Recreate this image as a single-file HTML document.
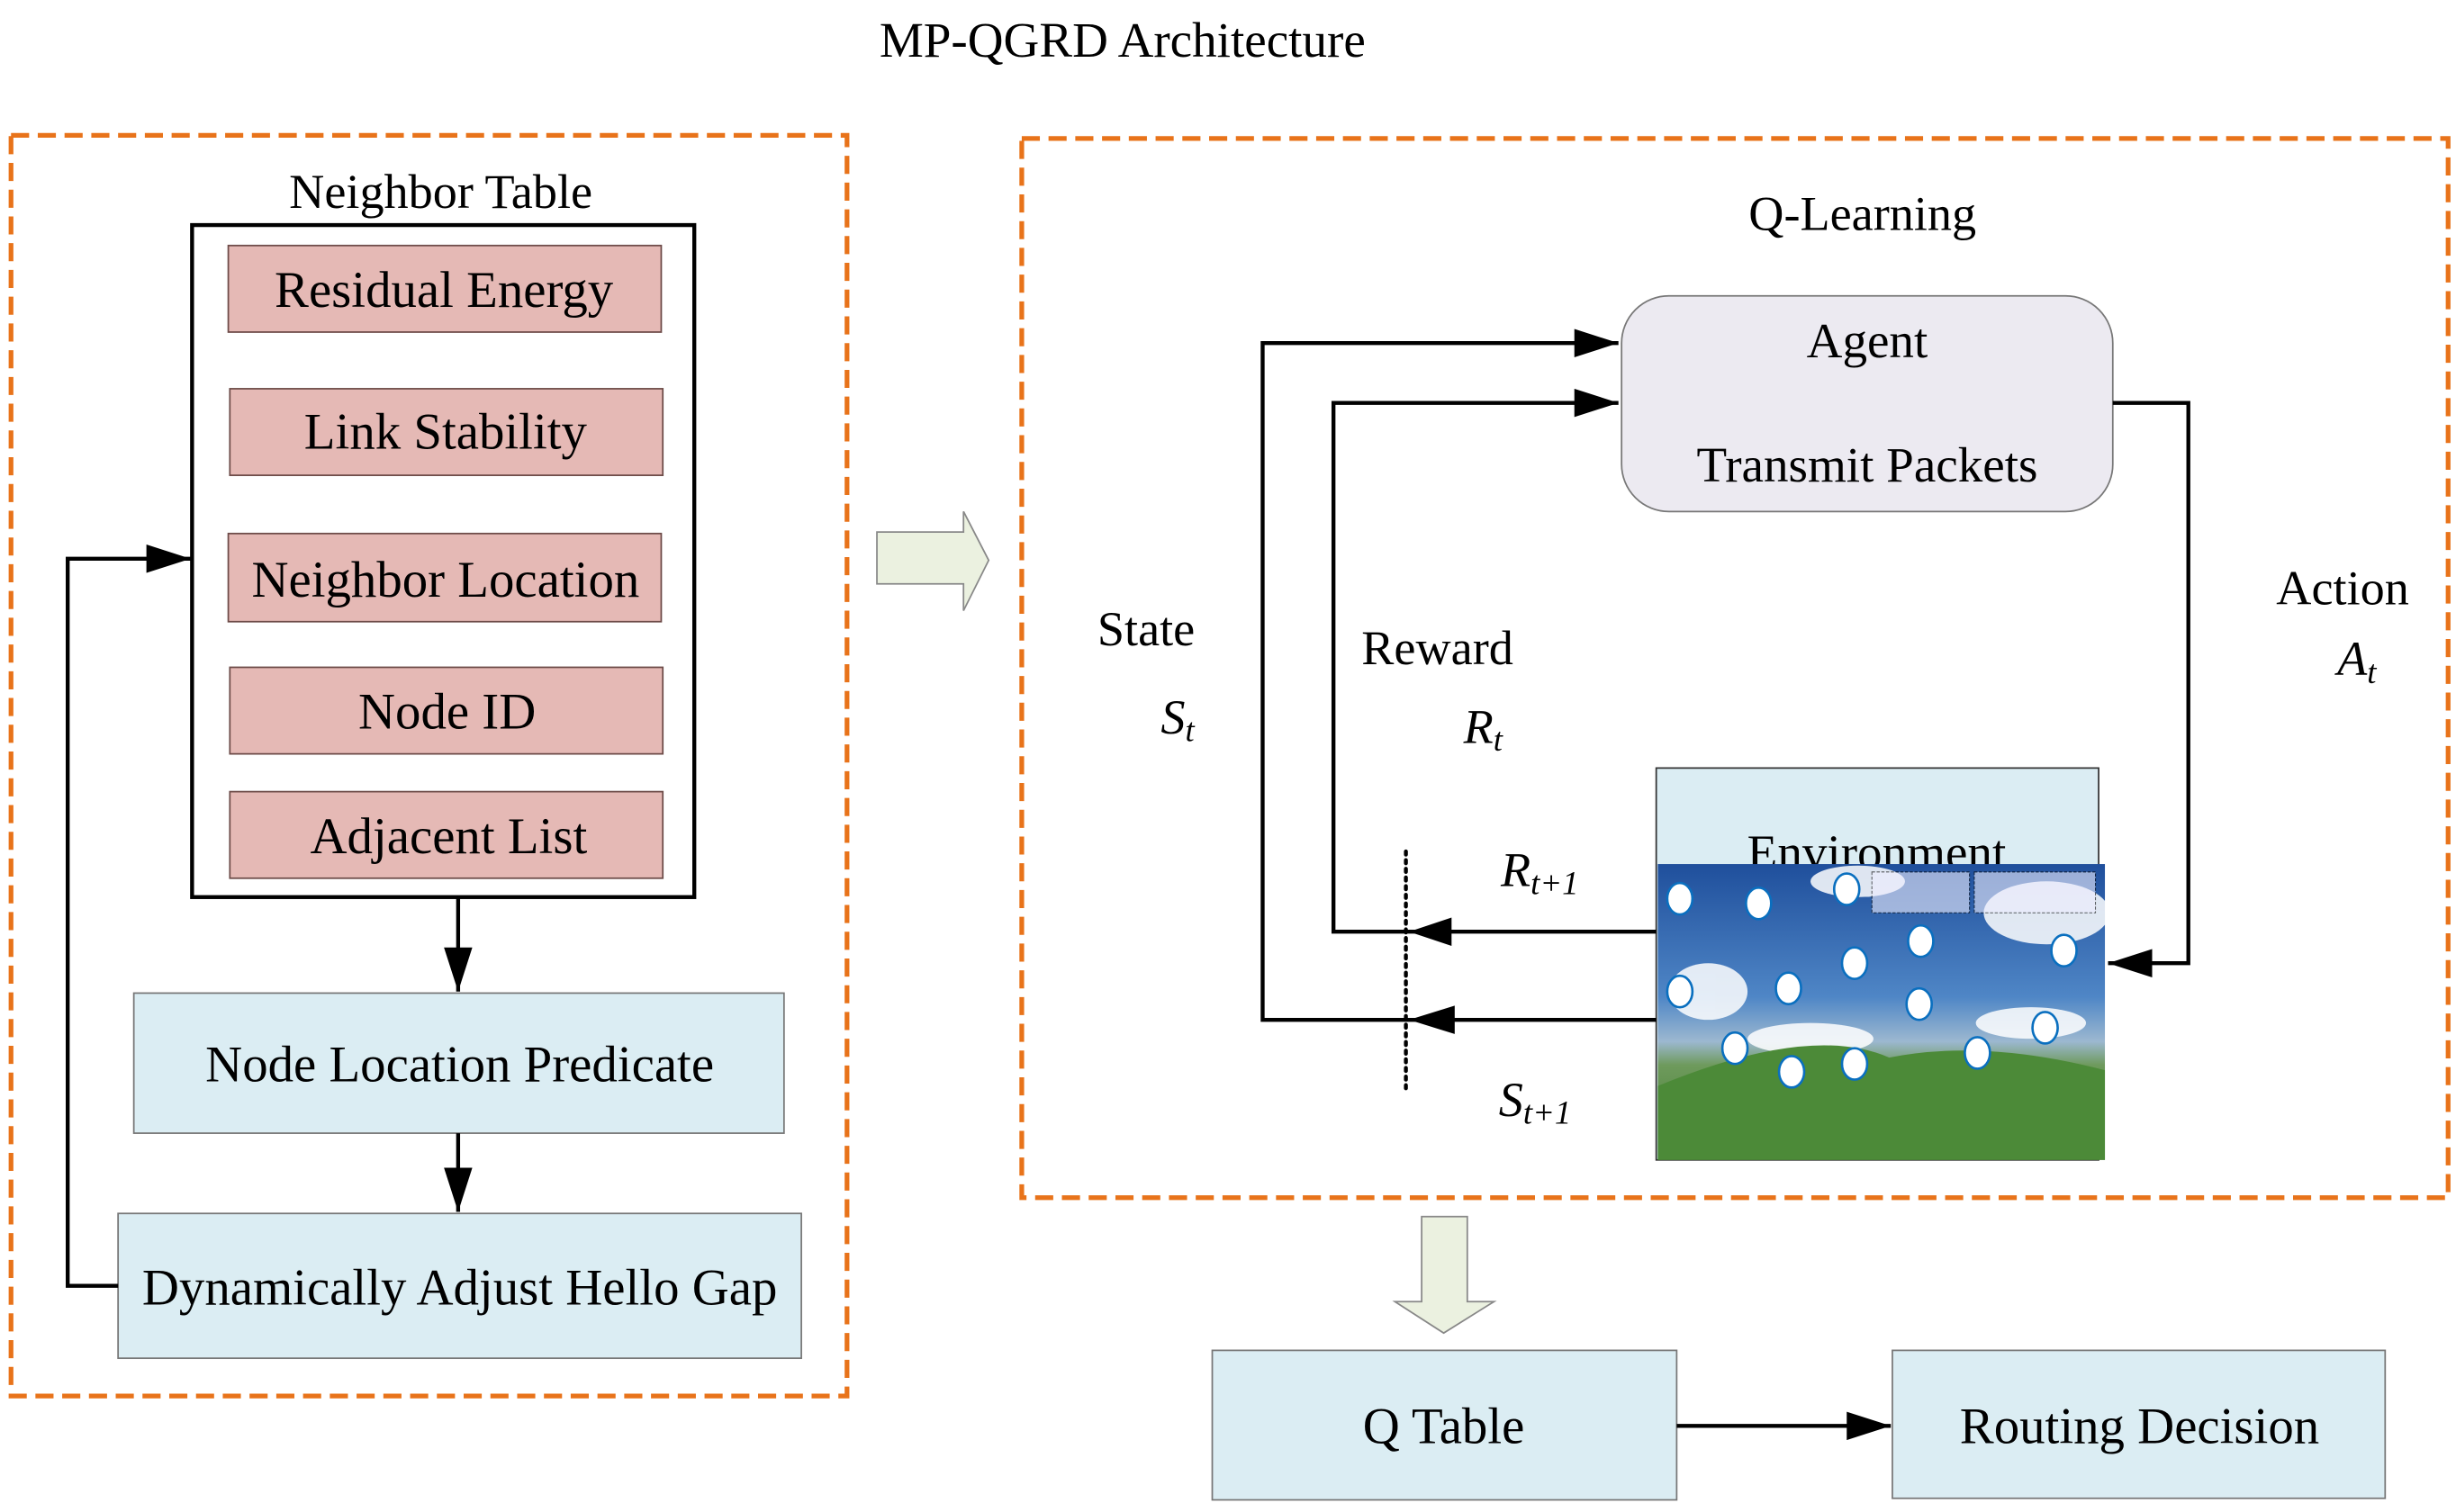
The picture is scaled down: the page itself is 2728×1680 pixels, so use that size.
<!DOCTYPE html>
<html><head><meta charset="utf-8"><style>
html,body{margin:0;padding:0;background:#fff;}
svg{display:block;}
text{font-family:"Liberation Serif",serif;fill:#000;}
</style></head><body>
<svg width="2728" height="1680" viewBox="0 0 1560 960.7" xmlns="http://www.w3.org/2000/svg">
<defs>
<marker id="ahb" markerWidth="28" markerHeight="18" refX="28" refY="9" orient="auto" markerUnits="userSpaceOnUse" viewBox="0 0 28 18">
<path d="M0,0 L28,9 L0,18 z" fill="#000"/></marker>
<linearGradient id="sky" x1="0" y1="0" x2="0" y2="1">
<stop offset="0" stop-color="#1f4f9c"/><stop offset="0.45" stop-color="#4f86c6"/><stop offset="0.6" stop-color="#9cb8d0"/><stop offset="0.68" stop-color="#6e9a5c"/><stop offset="1" stop-color="#3e7a2c"/></linearGradient>
</defs>
<rect width="1560" height="961" fill="#fff"/>
<text x="713" y="36" font-size="31.5" text-anchor="middle">MP-QGRD Architecture</text>

<rect x="7" y="86" width="531" height="801" fill="none" stroke="#E8731A" stroke-width="3" stroke-dasharray="11.5,5.5"/>
<text x="280" y="132" font-size="31" text-anchor="middle">Neighbor Table</text>
<rect x="122" y="143" width="319" height="427" fill="#fff" stroke="#000" stroke-width="2.5"/>
<g fill="#E5B9B5" stroke="#6d4b48" stroke-width="1">
<rect x="145" y="156" width="275" height="55"/>
<rect x="146" y="247" width="275" height="55"/>
<rect x="145" y="339" width="275" height="56"/>
<rect x="146" y="424" width="275" height="55"/>
<rect x="146" y="503" width="275" height="55"/>
</g>
<g font-size="32.5" text-anchor="middle">
<text x="282" y="195">Residual Energy</text>
<text x="283" y="285">Link Stability</text>
<text x="283" y="379">Neighbor Location</text>
<text x="284" y="463">Node ID</text>
<text x="285" y="542">Adjacent List</text>
</g>
<line x1="291" y1="570" x2="291" y2="630" stroke="#000" stroke-width="2.5" marker-end="url(#ahb)"/>
<rect x="85" y="631" width="413" height="89" fill="#DBEDF3" stroke="#777" stroke-width="1"/>
<text x="292" y="687" font-size="32.5" text-anchor="middle">Node Location Predicate</text>
<line x1="291" y1="720" x2="291" y2="770" stroke="#000" stroke-width="2.5" marker-end="url(#ahb)"/>
<rect x="75" y="771" width="434" height="92" fill="#DBEDF3" stroke="#777" stroke-width="1"/>
<text x="292" y="829" font-size="32.5" text-anchor="middle">Dynamically Adjust Hello Gap</text>
<polyline points="75,817 43,817 43,355 121,355" fill="none" stroke="#000" stroke-width="2.5" marker-end="url(#ahb)"/>

<path d="M557,338 L612,338 L612,325 L628,356 L612,388 L612,371 L557,371 z" fill="#EBF1E0" stroke="#888" stroke-width="1"/>

<rect x="649" y="88" width="906" height="673" fill="none" stroke="#E8731A" stroke-width="3" stroke-dasharray="11.5,5.5"/>
<text x="1183" y="146" font-size="31" text-anchor="middle">Q-Learning</text>
<rect x="1030" y="188" width="312" height="137" rx="30" fill="#ECEAF1" stroke="#777" stroke-width="1"/>
<text x="1186" y="227" font-size="31.5" text-anchor="middle">Agent</text>
<text x="1186" y="306" font-size="31.5" text-anchor="middle">Transmit Packets</text>

<rect x="1052" y="488" width="281" height="249" fill="#DBEDF3" stroke="#333" stroke-width="1"/>
<text x="1192" y="552" font-size="31.5" text-anchor="middle">Environment</text>
<rect x="1053" y="549" width="284" height="188" fill="url(#sky)"/>
<g fill="#fff" opacity="0.85">
<ellipse cx="1085" cy="630" rx="25" ry="18"/>
<ellipse cx="1300" cy="580" rx="40" ry="20"/>
<ellipse cx="1180" cy="560" rx="30" ry="10"/>
<ellipse cx="1290" cy="650" rx="35" ry="10"/>
<ellipse cx="1150" cy="660" rx="40" ry="10"/>
</g>
<path d="M1053,690 Q1150,650 1200,672 Q1260,660 1337,680 L1337,737 L1053,737 z" fill="#4c8a38"/>
<g stroke="#0a6fbf" stroke-width="1.5" fill="#fff">
<ellipse cx="1067" cy="571" rx="8" ry="10"/><ellipse cx="1117" cy="574" rx="8" ry="10"/><ellipse cx="1173" cy="565" rx="8" ry="10"/>
<ellipse cx="1067" cy="630" rx="8" ry="10"/><ellipse cx="1136" cy="628" rx="8" ry="10"/><ellipse cx="1178" cy="612" rx="8" ry="10"/>
<ellipse cx="1220" cy="598" rx="8" ry="10"/><ellipse cx="1219" cy="638" rx="8" ry="10"/><ellipse cx="1102" cy="666" rx="8" ry="10"/>
<ellipse cx="1138" cy="681" rx="8" ry="10"/><ellipse cx="1178" cy="676" rx="8" ry="10"/><ellipse cx="1256" cy="669" rx="8" ry="10"/>
<ellipse cx="1299" cy="653" rx="8" ry="10"/><ellipse cx="1311" cy="604" rx="8" ry="10"/>
</g>
<rect x="1189" y="554" width="62" height="26" fill="#eef" opacity="0.6" stroke="#000" stroke-dasharray="2,1" stroke-width="0.6"/>
<rect x="1254" y="554" width="77" height="26" fill="#eef" opacity="0.6" stroke="#000" stroke-dasharray="2,1" stroke-width="0.6"/>

<polyline points="1052,648 802,648 802,218 1028,218" fill="none" stroke="#000" stroke-width="2.5" marker-end="url(#ahb)"/>
<polyline points="1052,592 847,592 847,256 1028,256" fill="none" stroke="#000" stroke-width="2.5" marker-end="url(#ahb)"/>
<path d="M895,592 L922,583 L922,601 z" fill="#000"/>
<path d="M895,648 L924,639 L924,657 z" fill="#000"/>
<line x1="893" y1="541" x2="893" y2="692" stroke="#000" stroke-width="2.5" stroke-dasharray="2,3.5" stroke-linecap="round"/>
<polyline points="1342,256 1390,256 1390,612 1339,612" fill="none" stroke="#000" stroke-width="2.5" marker-end="url(#ahb)"/>

<text x="728" y="410" font-size="31" text-anchor="middle">State</text>
<text x="748" y="466" font-size="31" font-style="italic" text-anchor="middle">S<tspan font-size="21" dy="5">t</tspan></text>
<text x="913" y="422" font-size="31" text-anchor="middle">Reward</text>
<text x="942" y="472" font-size="31" font-style="italic" text-anchor="middle">R<tspan font-size="21" dy="5">t</tspan></text>
<text x="1488" y="384" font-size="31" text-anchor="middle">Action</text>
<text x="1497" y="429" font-size="31" font-style="italic" text-anchor="middle">A<tspan font-size="21" dy="5">t</tspan></text>
<text x="978" y="563" font-size="31" font-style="italic" text-anchor="middle">R<tspan font-size="21" dy="5">t+1</tspan></text>
<text x="975" y="709" font-size="31" font-style="italic" text-anchor="middle">S<tspan font-size="21" dy="5">t+1</tspan></text>

<path d="M903,773 L932,773 L932,827 L949,827 L917,847 L886,827 L903,827 z" fill="#EBF1E0" stroke="#888" stroke-width="1"/>

<rect x="770" y="858" width="295" height="95" fill="#DBEDF3" stroke="#777" stroke-width="1"/>
<text x="917" y="917" font-size="32.5" text-anchor="middle">Q Table</text>
<rect x="1202" y="858" width="313" height="94" fill="#DBEDF3" stroke="#777" stroke-width="1"/>
<text x="1359" y="917" font-size="32.5" text-anchor="middle">Routing Decision</text>
<line x1="1065" y1="906" x2="1201" y2="906" stroke="#000" stroke-width="2.5" marker-end="url(#ahb)"/>
</svg>
</body></html>
